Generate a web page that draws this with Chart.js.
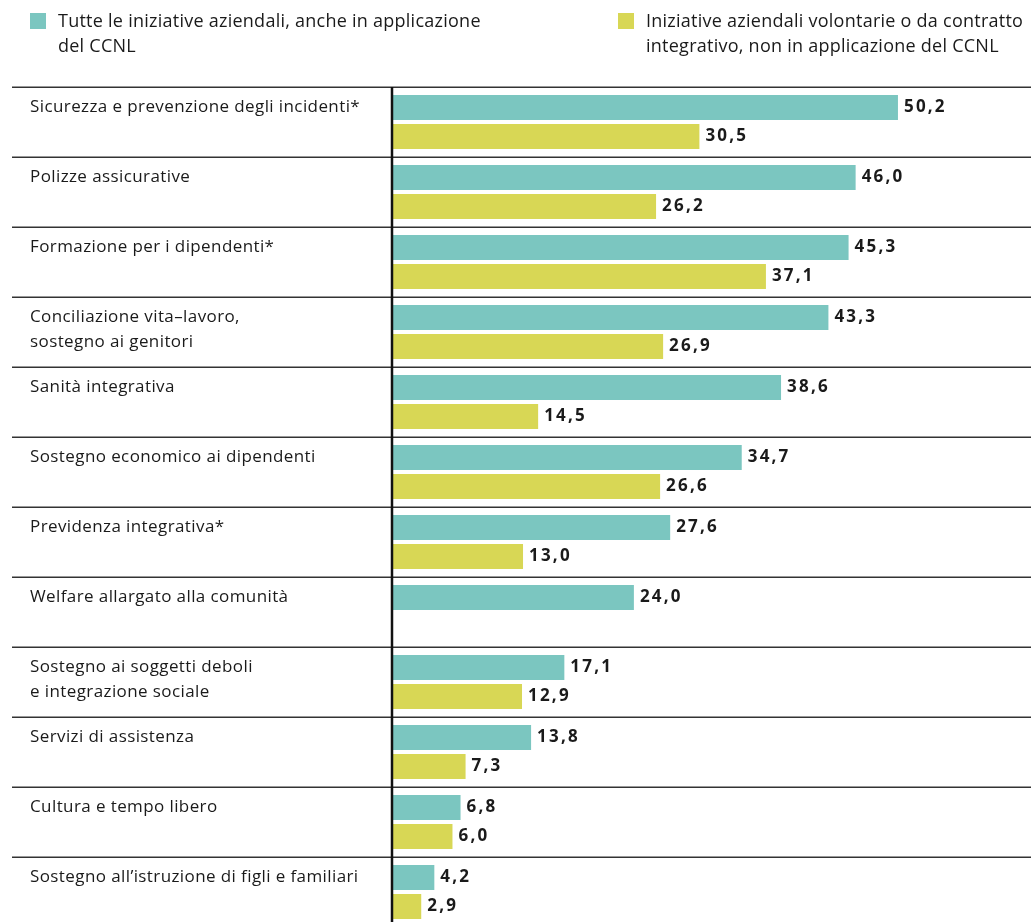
<!DOCTYPE html>
<html>
<head>
<meta charset="utf-8">
<script src="https://cdn.jsdelivr.net/npm/chart.js@4"></script>
<style>
  html, body { margin: 0; padding: 0; background: #fff; overflow: hidden; }
  #wrap { position: relative; width: 1031px; height: 927px; }
  .leg { position: absolute; top: 8px; font-family: "Open Sans", sans-serif; font-size: 18px; letter-spacing: 0.25px; line-height: 25px; color: #1a1a1a; }
  .leg .sw { position: absolute; left: 0; top: 5px; width: 16px; height: 16px; }
  .leg .tx { position: absolute; left: 28px; top: 0; white-space: nowrap; }
</style>
</head>
<body>
<div id="wrap">
  <canvas id="c" width="1031" height="927" style="width:1031px;height:927px;"></canvas>
  <div class="leg" style="left:30px;"><div class="sw" style="background:#7BC6C0"></div><div class="tx">Tutte le iniziative aziendali, anche in applicazione<br>del CCNL</div></div>
  <div class="leg" style="left:618px;"><div class="sw" style="background:#D8D755"></div><div class="tx">Iniziative aziendali volontarie o da contratto<br>integrativo, non in applicazione del CCNL</div></div>
</div>
<script>
const categories = [
  ["Sicurezza e prevenzione degli incidenti*"],
  ["Polizze assicurative"],
  ["Formazione per i dipendenti*"],
  ["Conciliazione vita–lavoro,", "sostegno ai genitori"],
  ["Sanità integrativa"],
  ["Sostegno economico ai dipendenti"],
  ["Previdenza integrativa*"],
  ["Welfare allargato alla comunità"],
  ["Sostegno ai soggetti deboli", "e integrazione sociale"],
  ["Servizi di assistenza"],
  ["Cultura e tempo libero"],
  ["Sostegno all’istruzione di figli e familiari"]
];
const seriesNames = [
  "Tutte le iniziative aziendali, anche in applicazione del CCNL",
  "Iniziative aziendali volontarie o da contratto integrativo, non in applicazione del CCNL"
];
const tutte = [50.2, 46.0, 45.3, 43.3, 38.6, 34.7, 27.6, 24.0, 17.1, 13.8, 6.8, 4.2];
const volontarie = [30.5, 26.2, 37.1, 26.9, 14.5, 26.6, 13.0, null, 12.9, 7.3, 6.0, 2.9];

const TEXT = "#1a1a1a";

const decorPlugin = {
  id: "decor",
  beforeDatasetsDraw(chart) {
    const ctx = chart.ctx;
    const y = chart.scales.y;
    const area = chart.chartArea;
    const n = categories.length;
    const step = (area.bottom - area.top) / n;
    ctx.save();
    ctx.strokeStyle = "#333";
    ctx.lineWidth = 1.5;
    for (let i = 0; i < n; i++) {
      const yy = Math.round(y.getPixelForValue(i) - step / 2) + 0.25;
      ctx.beginPath();
      ctx.moveTo(12, yy);
      ctx.lineTo(chart.width, yy);
      ctx.stroke();
    }
    ctx.fillStyle = TEXT;
    ctx.font = '17px "Open Sans", sans-serif';
    ctx.letterSpacing = "0.4px";
    ctx.textBaseline = "middle";
    ctx.textAlign = "left";
    for (let i = 0; i < n; i++) {
      const top = y.getPixelForValue(i) - step / 2;
      categories[i].forEach((line, k) => {
        ctx.fillText(line, 30, top + 20 + k * 25);
      });
    }
    ctx.restore();
  },
  afterDatasetsDraw(chart) {
    const ctx = chart.ctx;
    const area = chart.chartArea;
    ctx.save();
    ctx.fillStyle = TEXT;
    ctx.font = 'bold 17px "Open Sans", sans-serif';
    ctx.letterSpacing = "2.2px";
    ctx.textBaseline = "middle";
    ctx.textAlign = "left";
    chart.data.datasets.forEach((ds, di) => {
      const meta = chart.getDatasetMeta(di);
      meta.data.forEach((bar, i) => {
        const v = ds.data[i];
        if (v === null || v === undefined) return;
        ctx.fillText(v.toFixed(1).replace(".", ","), bar.x + 6, bar.y);
      });
    });
    ctx.restore();
    ctx.save();
    ctx.strokeStyle = "#111";
    ctx.lineWidth = 2.5;
    ctx.beginPath();
    ctx.moveTo(area.left, area.top);
    ctx.lineTo(area.left, chart.height);
    ctx.stroke();
    ctx.restore();
  }
};

new Chart(document.getElementById("c"), {
  type: "bar",
  data: {
    labels: categories.map(c => c.join(" ")),
    datasets: [
      { label: seriesNames[0], data: tutte, backgroundColor: "#7BC6C0", categoryPercentage: 0.829, barPercentage: 0.862 },
      { label: seriesNames[1], data: volontarie, backgroundColor: "#D8D755", categoryPercentage: 0.829, barPercentage: 0.862 }
    ]
  },
  options: {
    indexAxis: "y",
    responsive: false,
    animation: false,
    devicePixelRatio: 1,
    layout: { padding: { left: 392, top: 87, right: 0, bottom: 0 } },
    scales: {
      x: { display: false, min: 0, max: 63.4 },
      y: { display: false }
    },
    plugins: { legend: { display: false }, tooltip: { enabled: false } }
  },
  plugins: [decorPlugin]
});
</script>
</body>
</html>
